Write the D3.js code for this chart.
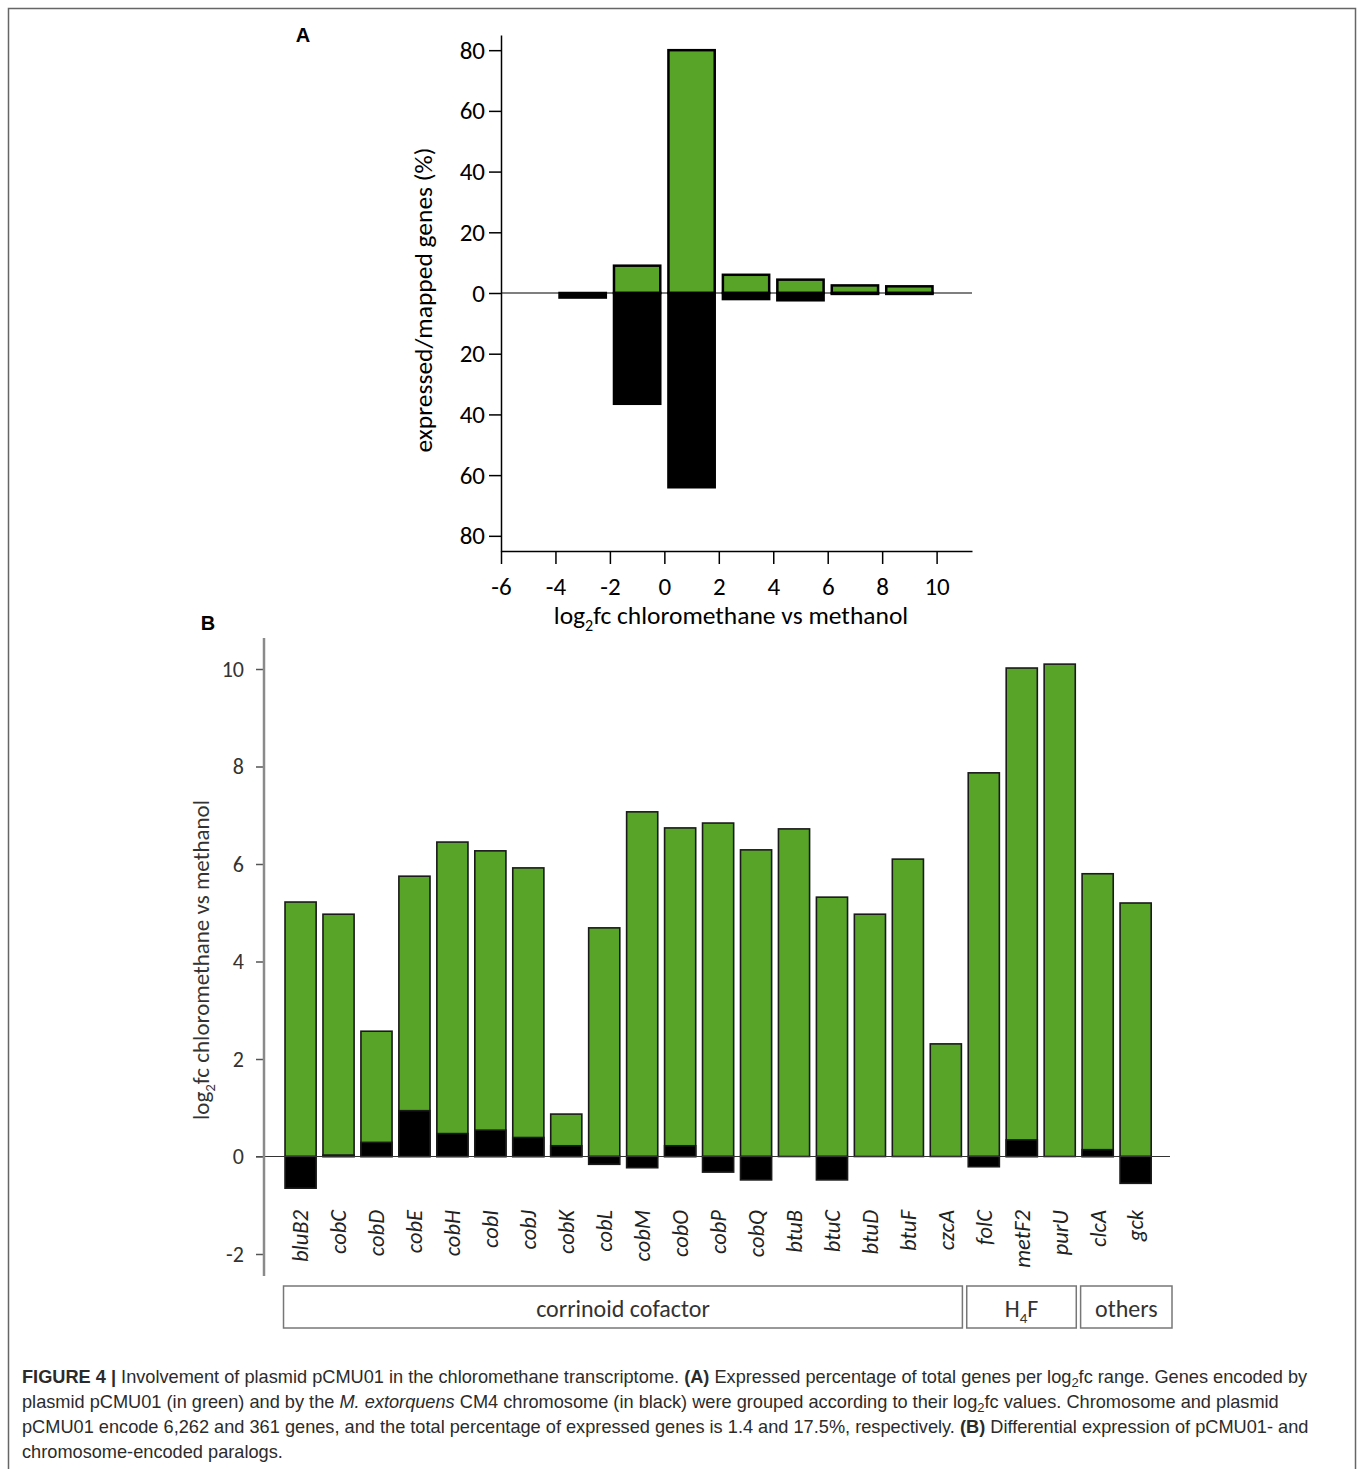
<!DOCTYPE html>
<html>
<head>
<meta charset="utf-8">
<script src="https://cdn.jsdelivr.net/npm/d3@7"></script>
<style>
  body { margin: 0; background: #fff; }
  .chart-font { font-family: Carlito, Lato, "Open Sans", sans-serif; }
  .caption { font-family: "Liberation Sans", Arial, sans-serif; font-size: 18.2px; fill: #2b2b2b; }
</style>
</head>
<body>
<div id="figure"></div>
<script>
// Panel A: log2fc bins (start of each 2-unit bin) and % of expressed/mapped genes
const binStarts = [-4, -2, 0, 2, 4, 6, 8];
const plasmidPct = [0, 9, 80, 6, 4.4, 2.5, 2.2];
const chromosomePct = [1.5, 36.5, 64, 2, 2.4, 0.3, 0.3];
const ticksA_y = [-80, -60, -40, -20, 0, 20, 40, 60, 80];
const ticksA_x = [-6, -4, -2, 0, 2, 4, 6, 8, 10];

// Panel B: log2fc per gene, plasmid copy (green) and chromosome paralog (black)
const genes = ["bluB2", "cobC", "cobD", "cobE", "cobH", "cobI", "cobJ", "cobK", "cobL", "cobM",
  "cobO", "cobP", "cobQ", "btuB", "btuC", "btuD", "btuF", "czcA", "folC", "metF2", "purU", "clcA", "gck"];
const plasmidFc = [5.22, 4.97, 2.57, 5.75, 6.45, 6.27, 5.92, 0.87, 4.69, 7.07,
  6.74, 6.84, 6.29, 6.72, 5.32, 4.97, 6.1, 2.31, 7.87, 10.02, 10.1, 5.8, 5.2];
const chromosomeFc = [-0.65, 0.03, 0.29, 0.94, 0.47, 0.54, 0.39, 0.22, -0.16, -0.23,
  0.22, -0.32, -0.48, 0, -0.48, 0, 0, 0, -0.21, 0.34, 0, 0.14, -0.55];
const ticksB_y = [-2, 0, 2, 4, 6, 8, 10];
const groupNames = ["corrinoid cofactor", "H4F", "others"];
const groupFirst = ["bluB2", "folC", "clcA"];
const groupLast = ["czcA", "purU", "gck"];

const green = "#58A428";

const svg = d3.select("#figure").append("svg")
  .attr("width", 1358)
  .attr("height", 1469);

// Frame around the figure
svg.append("rect")
  .attr("x", 8.5).attr("y", 8.5)
  .attr("width", 1347).attr("height", 1520)
  .attr("fill", "none")
  .attr("stroke", "#666")
  .attr("stroke-width", 1.5);

// ---------- Panel A ----------
const xA = d3.scaleLinear().domain([-6, 11.3]).range([501, 972]);
const yA = d3.scaleLinear().domain([-85, 85]).range([551, 35]);

const panelA = svg.append("g").attr("class", "chart-font");

panelA.append("text")
  .attr("x", 303).attr("y", 42)
  .attr("text-anchor", "middle")
  .style("font-family", "'Liberation Sans', Arial, sans-serif")
  .style("font-weight", "bold")
  .style("font-size", "20px")
  .text("A");

// bars: plasmid above zero, chromosome below
const binData = binStarts.map((b, i) => ({ b, up: plasmidPct[i], down: chromosomePct[i] }));

panelA.selectAll(".barA-up")
  .data(binData.filter(d => d.up > 0))
  .enter().append("rect")
  .attr("class", "barA-up")
  .attr("x", d => xA(d.b + 0.15))
  .attr("width", d => xA(d.b + 1.85) - xA(d.b + 0.15))
  .attr("y", d => yA(d.up))
  .attr("height", d => yA(0) - yA(d.up))
  .attr("fill", green)
  .attr("stroke", "#000")
  .attr("stroke-width", 2.5);

panelA.selectAll(".barA-down")
  .data(binData.filter(d => d.down > 0))
  .enter().append("rect")
  .attr("class", "barA-down")
  .attr("x", d => xA(d.b + 0.15))
  .attr("width", d => xA(d.b + 1.85) - xA(d.b + 0.15))
  .attr("y", yA(0))
  .attr("height", d => yA(-d.down) - yA(0))
  .attr("fill", "#000")
  .attr("stroke", "#000")
  .attr("stroke-width", 2.5);

// zero line
panelA.append("line")
  .attr("x1", xA(-6)).attr("x2", xA(11.3))
  .attr("y1", yA(0)).attr("y2", yA(0))
  .attr("stroke", "#000")
  .attr("stroke-width", 1.2);

const axisAy = panelA.append("g")
  .attr("transform", `translate(${xA(-6)},0)`)
  .call(d3.axisLeft(yA).tickValues(ticksA_y).tickFormat(d => Math.abs(d)).tickSize(12).tickSizeOuter(0).tickPadding(4));

const axisAx = panelA.append("g")
  .attr("transform", `translate(0,${yA(-85)})`)
  .call(d3.axisBottom(xA).tickValues(ticksA_x).tickFormat(d => String(d)).tickSize(13).tickSizeOuter(0).tickPadding(13));

[axisAy, axisAx].forEach(ax => {
  ax.select(".domain").attr("stroke", "#000").attr("stroke-width", 1.5);
  ax.selectAll(".tick line").attr("stroke", "#000").attr("stroke-width", 1.5);
  ax.selectAll(".tick text")
    .style("font-family", "Carlito, Lato, 'Open Sans', sans-serif")
    .style("font-size", "25px")
    .attr("fill", "#000");
});

panelA.append("text")
  .attr("transform", "translate(432,300) rotate(-90)")
  .attr("text-anchor", "middle")
  .style("font-size", "25.5px")
  .text("expressed/mapped genes (%)");

const xTitleA = panelA.append("text")
  .attr("x", 731).attr("y", 624)
  .attr("text-anchor", "middle")
  .style("font-size", "25.5px");
xTitleA.append("tspan").text("log");
xTitleA.append("tspan").attr("dy", 7).style("font-size", "16px").text("2");
xTitleA.append("tspan").attr("dy", -7).text("fc chloromethane vs methanol");

// ---------- Panel B ----------
const xB = d3.scaleBand().domain(genes).range([281.6, 1154.6]).paddingInner(0.18).paddingOuter(0.09);
const yB = d3.scaleLinear().domain([0, 10]).range([1156.5, 669]);

const panelB = svg.append("g").attr("class", "chart-font");

panelB.append("text")
  .attr("x", 208).attr("y", 630)
  .attr("text-anchor", "middle")
  .style("font-family", "'Liberation Sans', Arial, sans-serif")
  .style("font-weight", "bold")
  .style("font-size", "20px")
  .text("B");

const geneData = genes.map((g, i) => ({ g, up: plasmidFc[i], down: chromosomeFc[i] }));

panelB.selectAll(".barB-green")
  .data(geneData)
  .enter().append("rect")
  .attr("class", "barB-green")
  .attr("x", d => xB(d.g))
  .attr("width", xB.bandwidth())
  .attr("y", d => yB(Math.max(d.up, 0)))
  .attr("height", d => Math.abs(yB(0) - yB(d.up)))
  .attr("fill", green)
  .attr("stroke", "#1a1a1a")
  .attr("stroke-width", 1.6);

panelB.selectAll(".barB-black")
  .data(geneData.filter(d => d.down !== 0))
  .enter().append("rect")
  .attr("class", "barB-black")
  .attr("x", d => xB(d.g))
  .attr("width", xB.bandwidth())
  .attr("y", d => yB(Math.max(d.down, 0)))
  .attr("height", d => Math.abs(yB(0) - yB(d.down)))
  .attr("fill", "#000")
  .attr("stroke", "#1a1a1a")
  .attr("stroke-width", 1.6);

// zero line
panelB.append("line")
  .attr("x1", 256).attr("x2", 1170)
  .attr("y1", yB(0)).attr("y2", yB(0))
  .attr("stroke", "#333")
  .attr("stroke-width", 1.2);

const axisBy = panelB.append("g")
  .attr("transform", "translate(264,0)")
  .call(d3.axisLeft(yB).tickValues(ticksB_y).tickFormat(d => String(d)).tickSize(8).tickSizeOuter(0).tickPadding(12));
axisBy.select(".domain").remove();
axisBy.append("line")
  .attr("y1", 638).attr("y2", 1276)
  .attr("stroke", "#8a8a8a")
  .attr("stroke-width", 2.5);
axisBy.selectAll(".tick line").attr("stroke", "#555").attr("stroke-width", 1.5);
axisBy.selectAll(".tick text")
  .style("font-family", "Carlito, Lato, 'Open Sans', sans-serif")
  .style("font-size", "22px")
  .attr("fill", "#333");

const yTitleB = panelB.append("text")
  .attr("transform", "translate(209,960) rotate(-90)")
  .attr("text-anchor", "middle")
  .attr("fill", "#333")
  .style("font-size", "23px");
yTitleB.append("tspan").text("log");
yTitleB.append("tspan").attr("dy", 6).style("font-size", "15px").text("2");
yTitleB.append("tspan").attr("dy", -6).text("fc chloromethane vs methanol");

// gene labels
panelB.selectAll(".gene-label")
  .data(genes)
  .enter().append("text")
  .attr("class", "gene-label")
  .attr("transform", d => `translate(${xB(d) + xB.bandwidth() / 2},1210) rotate(-90)`)
  .attr("dy", "0.35em")
  .attr("text-anchor", "end")
  .attr("fill", "#222")
  .style("font-size", "22.5px")
  .style("font-style", "italic")
  .text(d => d);

// group boxes under the gene labels
groupNames.forEach((name, i) => {
  const x0 = xB(groupFirst[i]) - 1.5;
  const x1 = i === groupNames.length - 1 ? 1172 : xB(groupLast[i]) + xB.bandwidth() + 1;
  panelB.append("rect")
    .attr("x", x0).attr("y", 1286)
    .attr("width", x1 - x0).attr("height", 42)
    .attr("fill", "none")
    .attr("stroke", "#777")
    .attr("stroke-width", 1.5);
  const t = panelB.append("text")
    .attr("x", (x0 + x1) / 2).attr("y", 1317)
    .attr("text-anchor", "middle")
    .attr("fill", "#333")
    .style("font-size", "24px");
  if (name === "H4F") {
    t.append("tspan").text("H");
    t.append("tspan").attr("dy", 6).style("font-size", "15px").text("4");
    t.append("tspan").attr("dy", -6).text("F");
  } else {
    t.text(name);
  }
});

// ---------- Caption ----------
const captionLines = [
  [["b", "FIGURE 4 | "], ["", "Involvement of plasmid pCMU01 in the chloromethane transcriptome. "], ["b", "(A)"],
   ["", " Expressed percentage of total genes per log"], ["sub", "2"], ["", "fc range. Genes encoded by"]],
  [["", "plasmid pCMU01 (in green) and by the "], ["i", "M. extorquens"],
   ["", " CM4 chromosome (in black) were grouped according to their log"], ["sub", "2"], ["", "fc values. Chromosome and plasmid"]],
  [["", "pCMU01 encode 6,262 and 361 genes, and the total percentage of expressed genes is 1.4 and 17.5%, respectively. "],
   ["b", "(B)"], ["", " Differential expression of pCMU01- and"]],
  [["", "chromosome-encoded paralogs."]]
];

captionLines.forEach((parts, li) => {
  const t = svg.append("text")
    .attr("class", "caption")
    .attr("x", 22)
    .attr("y", 1383 + li * 25);
  let afterSub = false;
  parts.forEach(([kind, str]) => {
    const s = t.append("tspan").text(str);
    if (kind === "b") s.style("font-weight", "bold");
    if (kind === "i") s.style("font-style", "italic");
    if (kind === "sub") {
      s.attr("dy", 4).style("font-size", "13px");
      afterSub = true;
    } else if (afterSub) {
      s.attr("dy", -4);
      afterSub = false;
    }
  });
});
</script>
</body>
</html>
